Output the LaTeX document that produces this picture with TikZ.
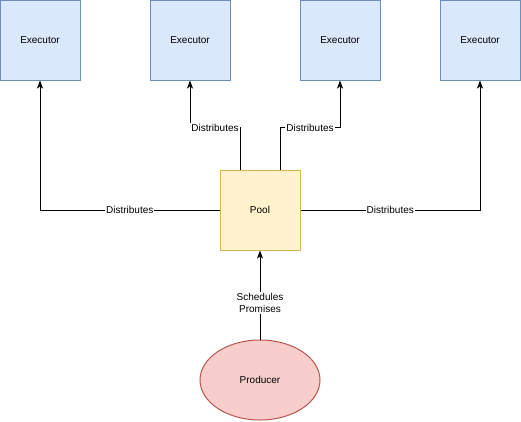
\documentclass[tikz,border=0pt]{standalone}
\usepackage{fontspec}
\setmainfont{Liberation Sans}
\usetikzlibrary{positioning,arrows.meta,shapes.geometric}

\definecolor{execfill}{HTML}{DAE8FC}
\definecolor{execdraw}{HTML}{6C8EBF}
\definecolor{poolfill}{HTML}{FFF2CC}
\definecolor{pooldraw}{HTML}{D6B656}
\definecolor{prodfill}{HTML}{F8CECC}
\definecolor{proddraw}{HTML}{B85450}

\begin{document}
\begin{tikzpicture}[
  x=1pt, y=-1pt,
  >={Stealth[length=8pt,width=6pt,inset=2pt]},
  line width=1pt,
  font=\fontsize{10}{12}\selectfont,
  executor/.style={draw=execdraw,fill=execfill,rectangle,minimum size=80pt,inner sep=0pt},
  lbl/.style={fill=white,inner sep=1pt,align=center}]
\useasboundingbox (0,0) rectangle (521,421);

\node[executor] (exec1) at (40,40) {Executor};
\node[executor] (exec2) at (190,40) {Executor};
\node[executor] (exec3) at (340,40) {Executor};
\node[executor] (exec4) at (480,40) {Executor};
\node[draw=pooldraw,fill=poolfill,rectangle,minimum size=80pt,inner sep=0pt] (Pool) at (260,210) {Pool};
\node[draw=proddraw,fill=prodfill,ellipse,minimum width=120pt,minimum height=80pt,inner sep=0pt] (Producer) at (260,380) {Producer};

\draw[->] (Pool.west) -| (exec1.south) node[lbl,pos=0.25]{Distributes};
\draw[->] ([xshift=-20pt]Pool.north) -- ++(0,-42) -| (exec2.south) node[lbl,pos=0.25]{Distributes};
\draw[->] ([xshift=20pt]Pool.north) -- ++(0,-42) -| (exec3.south) node[lbl,pos=0.25]{Distributes};
\draw[->] (Pool.east) -| (exec4.south) node[lbl,pos=0.25]{Distributes};

\draw[->] (Producer.north) -- (Pool.south) node[lbl,pos=0.41]{Schedules\\Promises};
\end{tikzpicture}
\end{document}
